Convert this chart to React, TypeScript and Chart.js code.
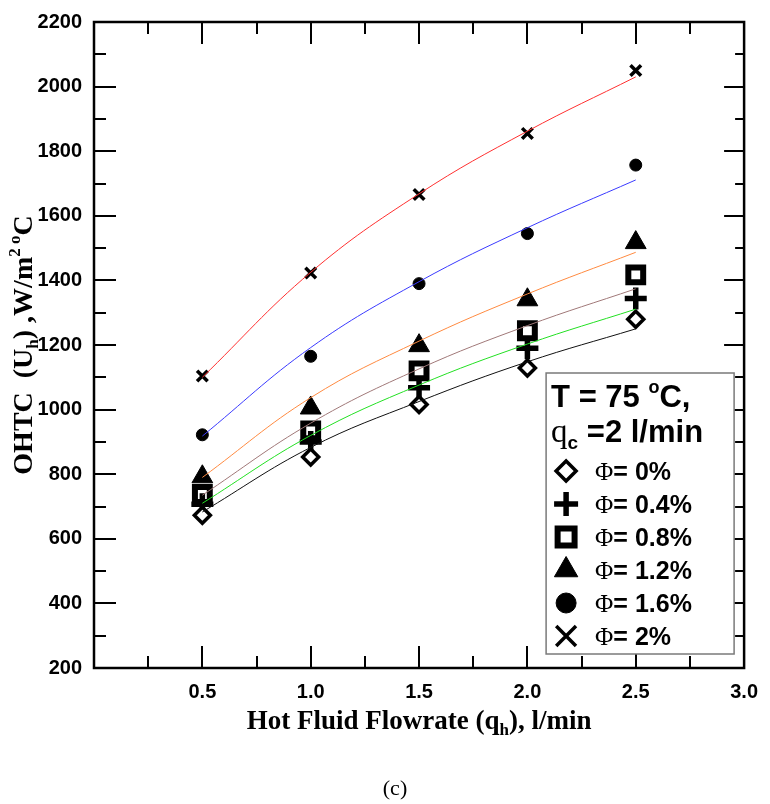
import React, { useEffect, useRef } from "react";
import { Chart, registerables } from "chart.js";
import { drawPoint } from "chart.js/helpers";

Chart.register(...registerables);

// ---- data ----
const flowRates = [0.5, 1.0, 1.5, 2.0, 2.5];

const phi0 = [673, 853, 1016, 1129, 1280];
const phi04 = [707, 900, 1068, 1190, 1344];
const phi08 = [737, 934, 1120, 1244, 1417];
const phi12 = [792, 1005, 1198, 1340, 1517];
const phi16 = [922, 1165, 1390, 1545, 1757];
const phi20 = [1104, 1423, 1666, 1855, 2050];

// fitted curves
const fit0 = [683, 883, 1025, 1148, 1250];
const fit04 = [710, 920, 1076, 1203, 1311];
const fit08 = [735, 958, 1126, 1260, 1374];
const fit12 = [790, 1037, 1212, 1358, 1487];
const fit16 = [918, 1192, 1396, 1563, 1711];
const fit20 = [1100, 1425, 1668, 1862, 2030];

const seriesLabels = ["0%", "0.4%", "0.8%", "1.2%", "1.6%", "2%"];
const xTickLabels = ["0.5", "1.0", "1.5", "2.0", "2.5", "3.0"];

const seriesValues = [phi0, phi04, phi08, phi12, phi16, phi20];
const fitValues = [fit0, fit04, fit08, fit12, fit16, fit20];

// ---- styles ----
const fitColors = ["#111111", "#22e022", "#a07878", "#ff8a40", "#3a3aff", "#ff3030"];
const markerStyles = [
  { pointStyle: "rectRot", radius: 8, legendRadius: 10, borderWidth: 3.5, bg: "#ffffff" },
  { pointStyle: "cross", radius: 11, legendRadius: 12, borderWidth: 5.5, bg: "#000000" },
  { pointStyle: "rect", radius: 10.5, legendRadius: 12, borderWidth: 6, bg: "#ffffff" },
  { pointStyle: "triangle", radius: 12, legendRadius: 13.5, borderWidth: 1, bg: "#000000" },
  { pointStyle: "circle", radius: 6, legendRadius: 10, borderWidth: 1, bg: "#000000" },
  { pointStyle: "crossRot", radius: 7.5, legendRadius: 14, borderWidth: 3.5, bg: "#000000" },
];

const SANS = "'Liberation Sans', Arial, sans-serif";
const SERIF = "'Liberation Serif', 'Times New Roman', serif";

type Seg = { t: string; font: string; dy?: number };

function richText(ctx: CanvasRenderingContext2D, segs: Seg[], x: number, y: number, align: "left" | "center") {
  ctx.textAlign = "left";
  ctx.textBaseline = "alphabetic";
  let total = 0;
  for (const s of segs) {
    ctx.font = s.font;
    total += ctx.measureText(s.t).width;
  }
  let cx = align === "center" ? x - total / 2 : x;
  for (const s of segs) {
    ctx.font = s.font;
    ctx.fillText(s.t, cx, y + (s.dy || 0));
    cx += ctx.measureText(s.t).width;
  }
}

const framePlugin = {
  id: "frameTicks",
  afterDatasetsDraw(chart: any) {
    const ctx: CanvasRenderingContext2D = chart.ctx;
    const { left, right, top, bottom } = chart.chartArea;
    const xs = chart.scales.x;
    const ys = chart.scales.y;
    ctx.save();
    ctx.strokeStyle = "#000";
    ctx.lineWidth = 2;
    ctx.lineCap = "butt";
    const MAJ = 22;
    const MIN = 12;
    const xt = xs.ticks.map((t: any) => t.value);
    const xMarks: [number, boolean][] = [];
    for (let i = 0; i < xt.length; i++) {
      xMarks.push([xt[i], true]);
      if (i < xt.length - 1) xMarks.push([(xt[i] + xt[i + 1]) / 2, false]);
    }
    for (const [v, major] of xMarks) {
      const px = Math.round(xs.getPixelForValue(v));
      const len = major ? MAJ : MIN;
      ctx.beginPath();
      ctx.moveTo(px, bottom);
      ctx.lineTo(px, bottom - len);
      ctx.moveTo(px, top);
      ctx.lineTo(px, top + len);
      ctx.stroke();
    }
    const yt = ys.ticks.map((t: any) => t.value);
    const yMarks: [number, boolean][] = [];
    for (let i = 0; i < yt.length; i++) {
      yMarks.push([yt[i], true]);
      if (i < yt.length - 1) yMarks.push([(yt[i] + yt[i + 1]) / 2, false]);
    }
    for (const [v, major] of yMarks) {
      const py = Math.round(ys.getPixelForValue(v));
      const len = major ? MAJ : MIN;
      ctx.beginPath();
      ctx.moveTo(left, py);
      ctx.lineTo(left + len, py);
      ctx.moveTo(right, py);
      ctx.lineTo(right - (major ? 20 : 9), py);
      ctx.stroke();
    }
    ctx.lineWidth = 2.5;
    ctx.strokeRect(left, top, right - left, bottom - top);

    // legend box
    const bw = 188;
    const bh = 281;
    const bx = right - 10 - bw;
    const by = bottom - 14 - bh;
    ctx.fillStyle = "#fff";
    ctx.fillRect(bx, by, bw, bh);
    ctx.strokeStyle = "#7a7a7a";
    ctx.lineWidth = 1.5;
    ctx.strokeRect(bx, by, bw, bh);
    ctx.fillStyle = "#000";
    richText(
      ctx,
      [
        { t: "T = 75 ", font: `bold 31px ${SANS}` },
        { t: "o", font: `bold 18px ${SANS}`, dy: -14 },
        { t: "C,", font: `bold 31px ${SANS}` },
      ],
      bx + 5,
      by + 34,
      "left"
    );
    richText(
      ctx,
      [
        { t: "q", font: `33px ${SERIF}` },
        { t: "c", font: `bold 19px ${SANS}`, dy: 7 },
        { t: " =2 l/min", font: `bold 31px ${SANS}` },
      ],
      bx + 5,
      by + 69,
      "left"
    );
    const datasets = chart.data.datasets.filter((d: any) => d.isMarker);
    datasets.forEach((d: any, i: number) => {
      const cy = by + 98 + i * 33;
      const cx = bx + 20;
      ctx.save();
      ctx.fillStyle = d.backgroundColor;
      ctx.strokeStyle = d.borderColor;
      ctx.lineWidth = d.borderWidth;
      ctx.lineJoin = "miter";
      drawPoint(ctx, { pointStyle: d.pointStyle, radius: d.legendRadius, rotation: 0, borderWidth: d.borderWidth }, cx, cy);
      ctx.restore();
      ctx.fillStyle = "#000";
      richText(
        ctx,
        [
          { t: "\u03A6", font: `25px ${SERIF}` },
          { t: "= " + d.label, font: `bold 25px ${SANS}` },
        ],
        bx + 49,
        cy + 9,
        "left"
      );
    });
    ctx.restore();
  },
  afterDraw(chart: any) {
    const ctx: CanvasRenderingContext2D = chart.ctx;
    const { left, right, top, bottom } = chart.chartArea;
    ctx.save();
    ctx.fillStyle = "#000";
    richText(
      ctx,
      [
        { t: "Hot Fluid Flowrate (q", font: `bold 27px ${SERIF}` },
        { t: "h", font: `bold 17px ${SERIF}`, dy: 6 },
        { t: "), l/min", font: `bold 27px ${SERIF}` },
      ],
      (left + right) / 2,
      bottom + 61,
      "center"
    );
    richText(ctx, [{ t: "(c)", font: `22px ${SERIF}` }], 395, bottom + 127, "center");
    ctx.translate(32, (top + bottom) / 2);
    ctx.rotate(-Math.PI / 2);
    richText(
      ctx,
      [
        { t: "OHTC  (U", font: `bold 28px ${SERIF}` },
        { t: "h", font: `bold 17px ${SERIF}`, dy: 6 },
        { t: ") ,W/m", font: `bold 28px ${SERIF}` },
        { t: "2", font: `bold 17px ${SERIF}`, dy: -12 },
        { t: " o", font: `bold 17px ${SERIF}`, dy: -12 },
        { t: "C", font: `bold 28px ${SERIF}` },
      ],
      0,
      0,
      "center"
    );
    ctx.restore();
  },
};

export default function App() {
  const ref = useRef<HTMLCanvasElement | null>(null);
  useEffect(() => {
    if (!ref.current) return;
    const lineSets = fitValues.map((vals, i) => ({
      label: "fit " + seriesLabels[i],
      data: flowRates.map((x, j) => ({ x, y: vals[j] })),
      showLine: true,
      borderColor: fitColors[i],
      backgroundColor: fitColors[i],
      borderWidth: 1,
      pointRadius: 0,
      pointHoverRadius: 0,
      tension: 0.4,
      fill: false,
    }));
    const markerSets = seriesValues.map((vals, i) => ({
      label: seriesLabels[i],
      isMarker: true,
      data: flowRates.map((x, j) => ({ x, y: vals[j] })),
      showLine: false,
      pointStyle: markerStyles[i].pointStyle,
      pointRadius: markerStyles[i].radius,
      pointHoverRadius: markerStyles[i].radius,
      legendRadius: markerStyles[i].legendRadius,
      borderWidth: markerStyles[i].borderWidth,
      pointBorderWidth: markerStyles[i].borderWidth,
      borderColor: "#000000",
      backgroundColor: markerStyles[i].bg,
    }));
    const chart = new Chart(ref.current, {
      type: "scatter",
      data: { datasets: [...lineSets, ...markerSets] as any },
      options: {
        animation: false,
        responsive: false,
        devicePixelRatio: 1,
        events: [],
        layout: { padding: { left: 0, right: 15, top: 10, bottom: 0 } },
        plugins: { legend: { display: false }, tooltip: { enabled: false } },
        scales: {
          x: {
            type: "linear",
            min: 0,
            max: 3,
            grid: { display: false, drawTicks: false },
            border: { display: false },
            ticks: {
              stepSize: 0.5,
              padding: 12,
              color: "#000",
              maxRotation: 0,
              autoSkip: false,
              font: { family: SANS, weight: "bold", size: 20 },
              callback: (v: any) => {
                const idx = Math.round(Number(v) / 0.5) - 1;
                return idx >= 0 ? xTickLabels[idx] : "";
              },
            },
            afterFit: (s: any) => {
              s.height = 136;
            },
          },
          y: {
            type: "linear",
            min: 200,
            max: 2200,
            grid: { display: false, drawTicks: false },
            border: { display: false },
            ticks: {
              stepSize: 200,
              padding: 12,
              color: "#000",
              font: { family: SANS, weight: "bold", size: 20, lineHeight: 1 },
              callback: (v: any) => String(v),
            },
            afterFit: (s: any) => {
              s.width = 94;
            },
          },
        },
      } as any,
      plugins: [framePlugin],
    });
    return () => chart.destroy();
  }, []);
  return (
    <div style={{ position: "absolute", left: 0, top: 0, width: 770, height: 804, background: "#fff" }}>
      <canvas ref={ref} width={770} height={804} style={{ display: "block", width: 770, height: 804 }} />
    </div>
  );
}
